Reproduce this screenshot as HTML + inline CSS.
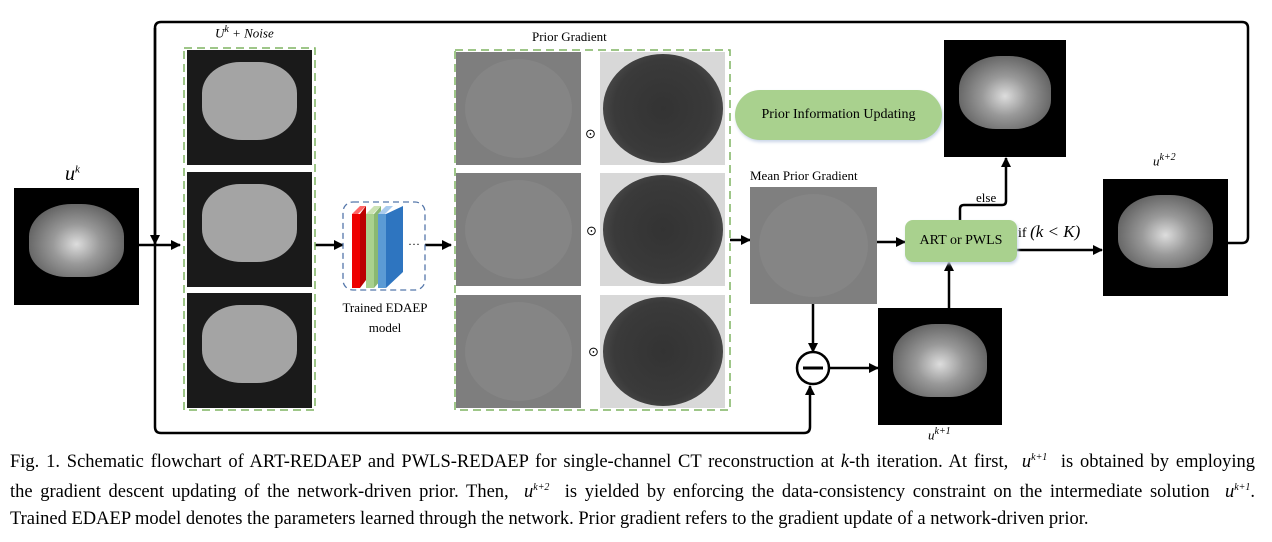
<!DOCTYPE html>
<html><head><meta charset="utf-8">
<style>
body{margin:0;width:1272px;height:542px;background:#fff;position:relative;overflow:hidden;font-family:"Liberation Serif",serif;}
.a{position:absolute;}
.ct{background:#000;}
.ct::after{content:"";position:absolute;left:12%;top:14%;width:76%;height:62%;border-radius:45% 45% 40% 40%;background:radial-gradient(ellipse at 50% 55%,#ddd 0,#999 35%,#777 60%,#555 85%,#222 100%);}
.nz{background:#1a1a1a;}
.nz::after{content:"";position:absolute;left:12%;top:10%;width:76%;height:68%;border-radius:40% 40% 42% 42%;background:#a4a4a4;}
.gr{background:#7e7e7e;}
.gr::after{content:"";position:absolute;left:7%;top:6%;width:86%;height:88%;border-radius:50%;background:#858585;}
.dk{background:#d8d8d8;}
.dk::after{content:"";position:absolute;left:2%;top:2%;width:96%;height:96%;border-radius:50%;background:radial-gradient(circle,#333 0,#3a3a3a 60%,#555 90%,#888 100%);}
.lbl{font-size:13px;white-space:nowrap;}
.cap{left:10px;width:1245px;font-size:18.5px;text-align:justify;text-align-last:justify;white-space:nowrap;}
.sup{font-size:10px;vertical-align:super;font-style:italic}
</style></head><body>
<svg class="a" style="left:0;top:0" width="1272" height="542">
<defs><marker id="ar" markerWidth="10" markerHeight="10" refX="9" refY="5" orient="auto" markerUnits="userSpaceOnUse"><path d="M0,0 L10,5 L0,10 z" fill="#000"/></marker></defs>
<g fill="none" stroke="#000" stroke-width="2.5">
<path d="M1228,243 H1242 Q1248,243 1248,237 V28 Q1248,22 1242,22 H161 Q155,22 155,28 V427 Q155,433 161,433 H804 Q810,433 810,427 V386" marker-end="url(#ar)"/>
<path d="M155,28 V244" marker-end="url(#ar)"/>
<path d="M139,245 H180" marker-end="url(#ar)"/>
<path d="M315,245 H343" marker-end="url(#ar)"/>
<path d="M425,245 H451" marker-end="url(#ar)"/>
<path d="M730,240 H750" marker-end="url(#ar)"/>
<path d="M877,242 H905" marker-end="url(#ar)"/>
<path d="M1017,250 H1102" marker-end="url(#ar)"/>
<path d="M960,220 V209 Q960,205 964,205 H1002 Q1006,205 1006,201 V158" marker-end="url(#ar)"/>
<path d="M949,308 V262" marker-end="url(#ar)"/>
<path d="M813,304 V352" marker-end="url(#ar)"/>
<path d="M830,368 H878" marker-end="url(#ar)"/>
<circle cx="813" cy="368" r="16"/>
<path d="M803,368 H823" stroke-width="3"/>
</g>
<g fill="none" stroke="#7fb360" stroke-width="1.5" stroke-dasharray="8,5">
<rect x="184" y="48" width="131" height="362"/>
<rect x="455" y="50" width="275" height="360"/>
</g>
<rect x="343" y="202" width="82" height="88" rx="10" fill="none" stroke="#5577aa" stroke-width="1.3" stroke-dasharray="6,4"/>
<g>
<path d="M352,214 L360,206 L366,206 L358,214 z" fill="#ff6666"/><rect x="352" y="214" width="8" height="74" fill="#e00"/><path d="M360,214 L366,206 V280 L360,288 z" fill="#b00"/>
<path d="M366,214 L374,206 L381,206 L373,214 z" fill="#cde3b5"/><rect x="366" y="214" width="8" height="74" fill="#a9d18e"/><path d="M374,214 L381,206 V280 L374,288 z" fill="#8ab872"/>
<path d="M378,214 L386,206 L393,206 L385,214 z" fill="#aaccee"/><rect x="378" y="214" width="8" height="74" fill="#5b9bd5"/>
<path d="M386,214 L403,206 V272 L386,288 z" fill="#2e75c0"/>
</g>
<text x="408" y="248" font-size="12" font-family="Liberation Serif">···</text>
</svg>

<div class="a lbl" style="left:65px;top:163px;font-size:20px;font-style:italic">u<span style="font-size:11px;vertical-align:super">k</span></div>
<div class="a ct" style="left:14px;top:188px;width:125px;height:117px"></div>

<div class="a lbl" style="left:215px;top:24px;font-style:italic">U<span class="sup">k</span> + Noise</div>
<div class="a nz" style="left:187px;top:50px;width:125px;height:115px"></div>
<div class="a nz" style="left:187px;top:172px;width:125px;height:115px"></div>
<div class="a nz" style="left:187px;top:293px;width:125px;height:115px"></div>

<div class="a lbl" style="left:330px;top:298px;width:110px;text-align:center;line-height:20px">Trained EDAEP<br>model</div>

<div class="a lbl" style="left:532px;top:29px">Prior Gradient</div>
<div class="a gr" style="left:456px;top:52px;width:125px;height:113px"></div>
<div class="a gr" style="left:456px;top:173px;width:125px;height:113px"></div>
<div class="a gr" style="left:456px;top:295px;width:125px;height:113px"></div>
<div class="a lbl" style="left:585px;top:126px">⊙</div>
<div class="a lbl" style="left:586px;top:223px">⊙</div>
<div class="a lbl" style="left:588px;top:344px">⊙</div>
<div class="a dk" style="left:600px;top:52px;width:125px;height:113px"></div>
<div class="a dk" style="left:600px;top:173px;width:125px;height:113px"></div>
<div class="a dk" style="left:600px;top:295px;width:125px;height:113px"></div>

<div class="a" style="left:735px;top:90px;width:207px;height:50px;border-radius:25px;background:#a9d18e;box-shadow:1px 2px 3px #c8d4e8;font-size:14px;line-height:50px;text-align:center">Prior Information Updating</div>
<div class="a lbl" style="left:750px;top:168px">Mean Prior Gradient</div>
<div class="a gr" style="left:750px;top:187px;width:127px;height:117px;background:#7f7f7f"></div>
<div class="a" style="left:905px;top:220px;width:112px;height:42px;border-radius:8px;background:#a9d18e;box-shadow:1px 2px 3px #c8d4e8;font-size:14px;line-height:42px;text-align:center">ART or PWLS</div>
<div class="a lbl" style="left:976px;top:190px">else</div>
<div class="a lbl" style="left:1018px;top:222px;font-size:14px">if <i style="font-size:17px">(k &lt; K)</i></div>
<div class="a ct" style="left:944px;top:40px;width:122px;height:117px"></div>
<div class="a lbl" style="left:1153px;top:152px;font-style:italic">u<span class="sup">k+2</span></div>
<div class="a ct" style="left:1103px;top:179px;width:125px;height:117px"></div>
<div class="a ct" style="left:878px;top:308px;width:124px;height:117px"></div>
<div class="a lbl" style="left:928px;top:426px;font-style:italic">u<span class="sup">k+1</span></div>

<div class="a cap" style="top:452px">Fig. 1. Schematic flowchart of ART-REDAEP and PWLS-REDAEP for single-channel CT reconstruction at <i>k</i>-th iteration. At first, &nbsp;<i>u</i><span class="sup">k+1</span>&nbsp; is obtained by employing</div>
<div class="a cap" style="top:482px">the gradient descent updating of the network-driven prior. Then, &nbsp;<i>u</i><span class="sup">k+2</span>&nbsp; is yielded by enforcing the data-consistency constraint on the intermediate solution &nbsp;<i>u</i><span class="sup">k+1</span>.</div>
<div class="a" style="left:10px;top:509px;font-size:18.5px;white-space:nowrap">Trained EDAEP model denotes the parameters learned through the network. Prior gradient refers to the gradient update of a network-driven prior.</div>
</body></html>
